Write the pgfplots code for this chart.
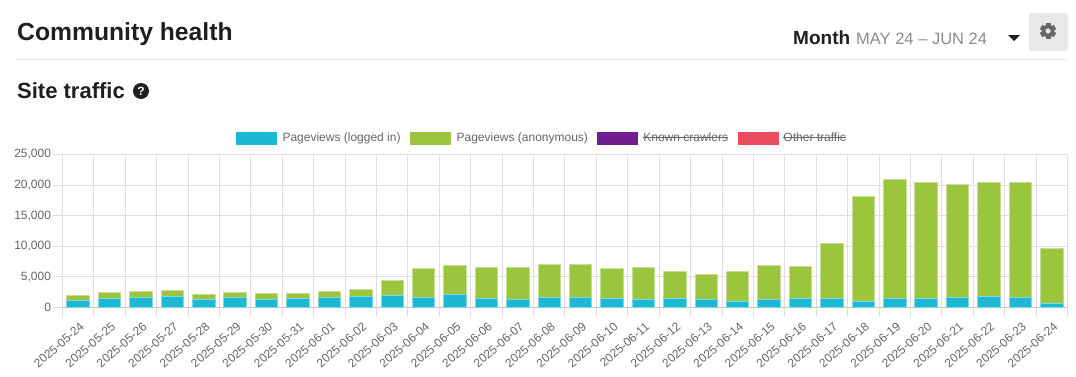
\documentclass[border=0pt]{standalone}
\usepackage{pgfplots}
\usepackage{pgfplotstable}
\usepackage{fontspec}
\setmainfont{Liberation Sans}
\pgfplotsset{compat=1.18}
\newcommand\strike[1]{\leavevmode\setbox0\hbox{#1}\rlap{\rule[0.32em]{\wd0}{0.7pt}}\box0\relax}
\definecolor{cyanbar}{HTML}{1FB8D2}
\definecolor{cyanedge}{HTML}{7FD6E4}
\definecolor{greenbar}{HTML}{9BC53D}
\definecolor{greenedge}{HTML}{C5DE92}
\definecolor{purplebar}{HTML}{6F1D8F}
\definecolor{redbar}{HTML}{EA4C60}
\definecolor{gridc}{HTML}{DFDFDF}
\definecolor{txt}{HTML}{666666}
\pgfplotstableread[col sep=space]{
i date logged anon
0 2025-05-24 1140 760
1 2025-05-25 1500 950
2 2025-05-26 1690 920
3 2025-05-27 1740 1090
4 2025-05-28 1250 930
5 2025-05-29 1690 760
6 2025-05-30 1300 930
7 2025-05-31 1420 810
8 2025-06-01 1690 980
9 2025-06-02 1850 1090
10 2025-06-03 1960 2400
11 2025-06-04 1580 4790
12 2025-06-05 2120 4740
13 2025-06-06 1520 5020
14 2025-06-07 1360 5120
15 2025-06-08 1690 5340
16 2025-06-09 1580 5390
17 2025-06-10 1420 4950
18 2025-06-11 1360 5120
19 2025-06-12 1420 4410
20 2025-06-13 1300 4040
21 2025-06-14 980 4960
22 2025-06-15 1250 5670
23 2025-06-16 1420 5330
24 2025-06-17 1420 8980
25 2025-06-18 1030 17050
26 2025-06-19 1470 19500
27 2025-06-20 1420 19010
28 2025-06-21 1580 18520
29 2025-06-22 1800 18680
30 2025-06-23 1690 18680
31 2025-06-24 600 9100
}\datatable
\begin{document}
\begin{tikzpicture}[x=1pt,y=1pt]
\path[fill=white] (0,0) rectangle (1076,376);
% header
\node[anchor=base west,inner sep=0,font=\fontsize{24.7}{25}\selectfont\bfseries,text=black!88] at (17,336) {Community health};
\draw[color=black!9,line width=1pt] (17,317) -- (1067,317);
\node[anchor=base west,inner sep=0,font=\fontsize{19}{20}\selectfont\bfseries,text=black!88] at (793,332) {Month};
\node[anchor=base west,inner sep=0,font=\fontsize{16.5}{16.5}\selectfont,text=black!45] at (856,332) {MAY 24 -- JUN 24};
\fill[black!88] (1008,341) -- (1020,341) -- (1014,335) -- cycle;
\fill[black!9,rounded corners=3pt] (1029,325) rectangle (1068,363);
% gear icon
\foreach \a in {0,60,120}{\fill[black!60,rotate around={\a:(1048,345)}] (1045.5,337) rectangle (1050.5,353);}
\fill[black!60] (1048,345) circle (6.3);
\fill[black!9] (1048,345) circle (2.6);
\node[anchor=base west,inner sep=0,font=\fontsize{22}{22}\selectfont\bfseries,text=black!88] at (17,278) {Site traffic};
\fill[black!88] (141,285) circle (8);
\node[inner sep=0,font=\fontsize{12}{12}\selectfont\bfseries,text=white] at (141,285) {?};
\begin{axis}[
  at={(62.5pt,68.5pt)},anchor=south west,
  scale only axis,width=1005pt,height=153pt,
  xmin=-0.5,xmax=31.5,ymin=0,ymax=25000,
  clip=false,
  ybar stacked,bar width=22.5pt,
  axis line style={draw=gridc},
  x axis line style={draw=black!22},
  axis x line*=bottom,axis y line*=left,
  tick align=outside,
  xtick=data,
  xticklabels from table={\datatable}{date},
  x tick label style={rotate=41,anchor=north east,font=\fontsize{12}{12}\selectfont,text=txt,xshift=1pt,yshift=-1pt},
  minor xtick={-0.5,0.5,...,31.5},
  xminorgrids=true,
  minor x grid style={draw=gridc,line width=1pt},
  minor tick length=9pt,
  minor x tick style={draw=gridc,line width=1pt},
  major x tick style={draw=none},
  major tick length=9pt,
  ytick={0,5000,10000,15000,20000,25000},
  ymajorgrids=true,
  y grid style={draw=gridc,line width=1pt},
  y tick style={draw=gridc,line width=1pt},
  y tick label style={font=\fontsize{12}{12}\selectfont,text=txt,xshift=1pt},
  scaled y ticks=false,
  /pgf/number format/assume math mode=true,
  yticklabel style={/pgf/number format/fixed,/pgf/number format/1000 sep={,}},
  legend style={at={(0.5,1.0)},anchor=south,xshift=-23pt,yshift=7pt,draw=none,fill=none,
    legend columns=4,font=\fontsize{12}{12}\selectfont,text=txt,
    /tikz/every even column/.append style={column sep=7.5pt},
    /tikz/every odd column/.append style={column sep=3.5pt}},
  legend cell align=left,
]
\addplot[fill=cyanbar,draw=cyanedge,line width=1pt,
  legend image code/.code={\fill[cyanbar] (0pt,-6pt) rectangle (40pt,6pt);}]
  table[x=i,y=logged]{\datatable};
\addlegendentry{Pageviews (logged in)}
\addplot[fill=greenbar,draw=greenedge,line width=1pt,
  legend image code/.code={\fill[greenbar] (0pt,-6pt) rectangle (40pt,6pt);}]
  table[x=i,y=anon]{\datatable};
\addlegendentry{Pageviews (anonymous)}
\addlegendimage{legend image code/.code={\fill[purplebar] (0pt,-6pt) rectangle (40pt,6pt);}}
\addlegendentry{\strike{Known crawlers}}
\addlegendimage{legend image code/.code={\fill[redbar] (0pt,-6pt) rectangle (40pt,6pt);}}
\addlegendentry{\strike{Other traffic}}
\end{axis}
\end{tikzpicture}
\end{document}
